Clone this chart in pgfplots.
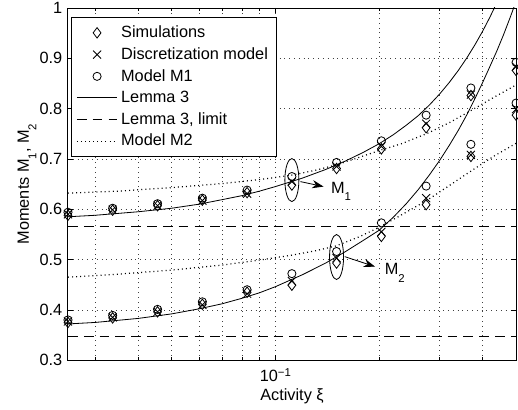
\documentclass[border=0pt]{standalone}
\usepackage{fontspec}
\setmainfont{Liberation Sans}
\usepackage{pgfplots}
\pgfplotsset{compat=1.18}
\usetikzlibrary{arrows.meta}
\newcommand{\sub}[1]{\raisebox{-4.5pt}{\scriptsize #1}}
\begin{document}
\begin{tikzpicture}
\useasboundingbox (-41.7pt,-30.06pt) rectangle (276pt,220.9pt);
\begin{axis}[
  scale only axis, width=274.8pt, height=216pt,
  xmode=log, xmin=0.025, xmax=0.5, ymin=0.3, ymax=1,
  xtick={0.1}, xticklabels={10\raisebox{0.6ex}{\scriptsize −1}},
  minor xtick={0.03,0.04,0.05,0.06,0.07,0.08,0.09,0.2,0.3,0.4},
  ytick={0.3,0.4,0.5,0.6,0.7,0.8,0.9,1},
  yticklabels={0.3,0.4,0.5,0.6,0.7,0.8,0.9,1},
  xticklabel style={anchor=base, yshift=-13.3pt},
  xmajorgrids, xminorgrids, ymajorgrids,
  major grid style={black!75, line width=0.4pt, dash pattern=on 0.45pt off 2.5pt},
  minor grid style={black!75, line width=0.4pt, dash pattern=on 0.45pt off 2.5pt},
  tick align=inside, major tick length=3pt, minor tick length=1.8pt,
  every tick/.style={black, line width=0.4pt},
  axis line style={line width=0.6pt},
  xlabel={Activity ξ},
  xlabel style={at={(axis description cs:0.5,-0.1134)}, anchor=base},
  ylabel={Moments M\sub{1}, M\sub{2}},
  ylabel style={at={(axis description cs:-0.087,0.5)}, anchor=base},
  legend style={at={(axis description cs:0.0067,0.974)}, anchor=north west, draw=black, line width=0.5pt, fill=white, inner ysep=3pt, row sep=0.6pt},
  legend cell align=left,
  legend image code/.code={\draw[mark repeat=2,mark phase=2,#1] plot coordinates {(0cm,0cm) (0.435cm,0cm) (0.87cm,0cm)};},
  every axis plot/.append style={black, line width=0.5pt},
]
% Simulations (diamonds)
\addplot[only marks, mark=diamond, mark size=3.2pt, mark options={solid}] coordinates {
(0.025,0.588)(0.0337,0.598)(0.0455,0.607)(0.0614,0.618)(0.0828,0.633)(0.1117,0.648)(0.1506,0.681)(0.2032,0.720)(0.2741,0.762)(0.3698,0.826)(0.5,0.876)};
\addlegendentry{Simulations}
% Discretization model (x)
\addplot[only marks, mark=x, mark size=3.5pt, mark options={solid}] coordinates {
(0.025,0.590)(0.0337,0.599)(0.0455,0.607)(0.0614,0.617)(0.0828,0.631)(0.1117,0.655)(0.1506,0.685)(0.2032,0.725)(0.2741,0.770)(0.3698,0.828)(0.5,0.883)};
\addlegendentry{Discretization model}
% Model M1 (circles)
\addplot[only marks, mark=o, mark size=2.5pt, mark options={solid}] coordinates {
(0.025,0.594)(0.0337,0.602)(0.0455,0.611)(0.0614,0.622)(0.0828,0.638)(0.1117,0.665)(0.1506,0.693)(0.2032,0.736)(0.2741,0.787)(0.3698,0.841)(0.5,0.892)};
\addlegendentry{Model M1}
% Lemma 3 (solid)
\addplot[solid, no marks] coordinates {
(0.025,0.585)(0.03,0.588)(0.04,0.595)(0.05,0.602)(0.06,0.610)(0.07,0.619)(0.08,0.627)(0.09,0.636)(0.10,0.645)(0.12,0.662)(0.14,0.679)(0.16,0.696)(0.18,0.713)(0.20,0.730)(0.22,0.748)(0.24,0.767)(0.26,0.786)(0.28,0.807)(0.30,0.829)(0.32,0.852)(0.34,0.876)(0.36,0.901)(0.38,0.927)(0.40,0.954)(0.42,0.982)(0.44,1.011)(0.46,1.040)};
\addlegendentry{Lemma 3}
% Lemma 3, limit (dashed)
\addplot[no marks, dash pattern=on 6pt off 3.7pt] coordinates {(0.025,0.566)(0.5,0.566)};
\addlegendentry{Lemma 3, limit}
% Model M2 (dotted)
\addplot[no marks, line width=0.75pt, dash pattern=on 0.6pt off 1.9pt] coordinates {
(0.025,0.632)(0.035,0.636)(0.05,0.643)(0.07,0.651)(0.09,0.659)(0.11,0.667)(0.13,0.677)(0.15,0.688)(0.175,0.703)(0.2032,0.718)(0.232,0.730)(0.2747,0.750)(0.32,0.772)(0.372,0.797)(0.43,0.822)(0.50,0.847)};
\addlegendentry{Model M2}

% second moment series
\addplot[forget plot, only marks, mark=diamond, mark size=3.2pt, mark options={solid}] coordinates {
(0.025,0.375)(0.0337,0.384)(0.0455,0.396)(0.0614,0.411)(0.0828,0.435)(0.1117,0.449)(0.1506,0.493)(0.2032,0.546)(0.2741,0.609)(0.3698,0.705)(0.5,0.787)};
\addplot[forget plot, only marks, mark=x, mark size=3.5pt, mark options={solid}] coordinates {
(0.025,0.377)(0.0337,0.385)(0.0455,0.396)(0.0614,0.410)(0.0828,0.432)(0.1117,0.457)(0.1506,0.503)(0.2032,0.555)(0.2741,0.622)(0.3698,0.708)(0.5,0.799)};
\addplot[forget plot, only marks, mark=o, mark size=2.5pt, mark options={solid}] coordinates {
(0.025,0.380)(0.0337,0.389)(0.0455,0.401)(0.0614,0.416)(0.0828,0.440)(0.1117,0.472)(0.1506,0.516)(0.2032,0.573)(0.2741,0.646)(0.3698,0.729)(0.5,0.811)};
\addplot[forget plot, solid, no marks] coordinates {
(0.025,0.372)(0.03,0.375)(0.04,0.383)(0.05,0.392)(0.06,0.402)(0.07,0.412)(0.08,0.423)(0.09,0.434)(0.10,0.446)(0.12,0.470)(0.14,0.493)(0.16,0.516)(0.18,0.538)(0.20,0.558)(0.22,0.584)(0.24,0.611)(0.26,0.639)(0.28,0.668)(0.30,0.697)(0.32,0.727)(0.34,0.757)(0.36,0.788)(0.38,0.820)(0.40,0.852)(0.42,0.884)(0.44,0.915)(0.46,0.947)(0.48,0.980)(0.50,1.013)(0.52,1.045)};
\addplot[forget plot, no marks, dash pattern=on 6pt off 3.7pt] coordinates {(0.025,0.347)(0.5,0.347)};
\addplot[forget plot, no marks, line width=0.75pt, dash pattern=on 0.6pt off 1.9pt] coordinates {
(0.025,0.465)(0.035,0.471)(0.05,0.479)(0.07,0.489)(0.09,0.499)(0.11,0.508)(0.13,0.517)(0.15,0.527)(0.175,0.545)(0.20,0.564)(0.23,0.587)(0.2747,0.617)(0.32,0.647)(0.372,0.677)(0.43,0.705)(0.50,0.731)};

% annotations
\draw[line width=0.5pt] (axis cs:0.1117,0.658) ellipse (4.3pt and 13.2pt);
\draw[line width=0.5pt, -{Stealth[length=7pt,width=5pt]}] (axis cs:0.1183,0.6549) -- (axis cs:0.1381,0.645);
\node[anchor=base west, inner sep=0pt] at (axis cs:0.1448,0.6318) {M\sub{1}};
\draw[line width=0.5pt] (axis cs:0.1506,0.505) ellipse (4.3pt and 13.8pt);
\draw[line width=0.5pt, -{Stealth[length=7pt,width=5pt]}] (axis cs:0.1591,0.5058) -- (axis cs:0.1948,0.4859);
\node[anchor=base west, inner sep=0pt] at (axis cs:0.2074,0.4694) {M\sub{2}};
\end{axis}
\end{tikzpicture}
\end{document}
